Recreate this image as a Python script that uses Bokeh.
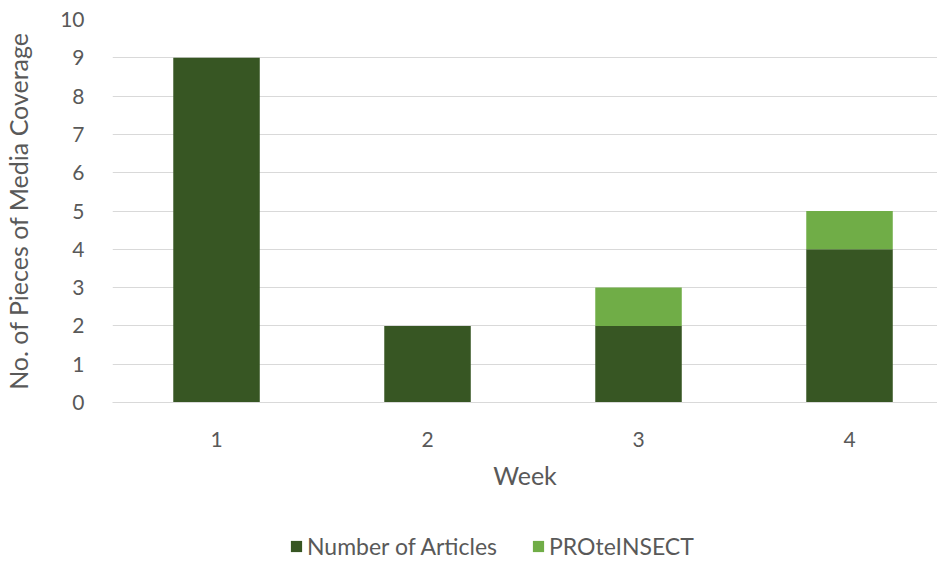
from bokeh.plotting import figure
from bokeh.models import Legend, FixedTicker, ColumnDataSource
from bokeh.layouts import column
from bokeh.embed import file_html
from bokeh.resources import INLINE

weeks = [1, 2, 3, 4]
week_labels = ["1", "2", "3", "4"]
articles = [9, 2, 2, 4]
proteinsect = [0, 0, 1, 1]
series = ["articles", "proteinsect"]
series_labels = ["Number of Articles", "PROteINSECT"]
colors = ["#375623", "#70AD47"]
y_ticks = list(range(0, 11))

FONT = "Lato"
GREY = "#595959"

src = ColumnDataSource(dict(x=weeks, articles=articles, proteinsect=proteinsect))

p = figure(width=937, height=500, output_backend="svg", toolbar_location=None,
           x_range=(0.507, 4.417), y_range=(0, 10),
           min_border_top=19, min_border_right=0, min_border_left=112,
           min_border_bottom=98)
p.outline_line_color = None

rs = p.vbar_stack(series, x="x", width=0.41, source=src, color=colors, line_color=None)

p.xaxis.ticker = FixedTicker(ticks=weeks)
p.xaxis.major_label_overrides = {w: l for w, l in zip(weeks, week_labels)}
p.yaxis.ticker = FixedTicker(ticks=y_ticks)

for ax in (p.xaxis[0], p.yaxis[0]):
    ax.major_tick_line_color = None
    ax.minor_tick_line_color = None
    ax.major_label_text_font = FONT
    ax.major_label_text_font_size = "21px"
    ax.major_label_text_color = GREY
    ax.axis_label_text_font = FONT
    ax.axis_label_text_font_size = "25px"
    ax.axis_label_text_color = GREY
    ax.axis_label_text_font_style = "normal"

p.xaxis.axis_line_color = "#D9D9D9"
p.yaxis.axis_line_color = None
p.xaxis.axis_label = "Week"
p.yaxis.axis_label = "No. of Pieces of Media Coverage"
p.xaxis.major_label_standoff = 23
p.xaxis.axis_label_standoff = 10
p.yaxis.major_label_standoff = 22
p.yaxis.axis_label_standoff = 24

p.xgrid.grid_line_color = None
p.ygrid.ticker = FixedTicker(ticks=y_ticks)
p.ygrid.grid_line_color = "#D9D9D9"
p.ygrid.grid_line_width = 1

# legend strip below the chart (renderers placed outside its visible range)
lg = figure(width=937, height=63, output_backend="svg", toolbar_location=None,
            x_range=(0, 1), y_range=(0, 1), min_border=0)
lg.axis.visible = False
lg.grid.visible = False
lg.outline_line_color = None
dummies = [lg.vbar(x=[50], top=[0.5], width=0.1, color=c, line_color=None) for c in colors]

legend = Legend(items=[(lab, [r]) for lab, r in zip(series_labels, dummies)],
                orientation="horizontal", location=(177, 3),
                label_text_font=FONT, label_text_font_size="23px",
                label_text_color=GREY, glyph_width=14, glyph_height=14,
                label_standoff=4, spacing=34, border_line_color=None,
                background_fill_alpha=0, margin=0, padding=0)
lg.add_layout(legend, "center")

layout = column(p, lg, spacing=0)
open("out.html", "w").write(file_html(layout, INLINE))
